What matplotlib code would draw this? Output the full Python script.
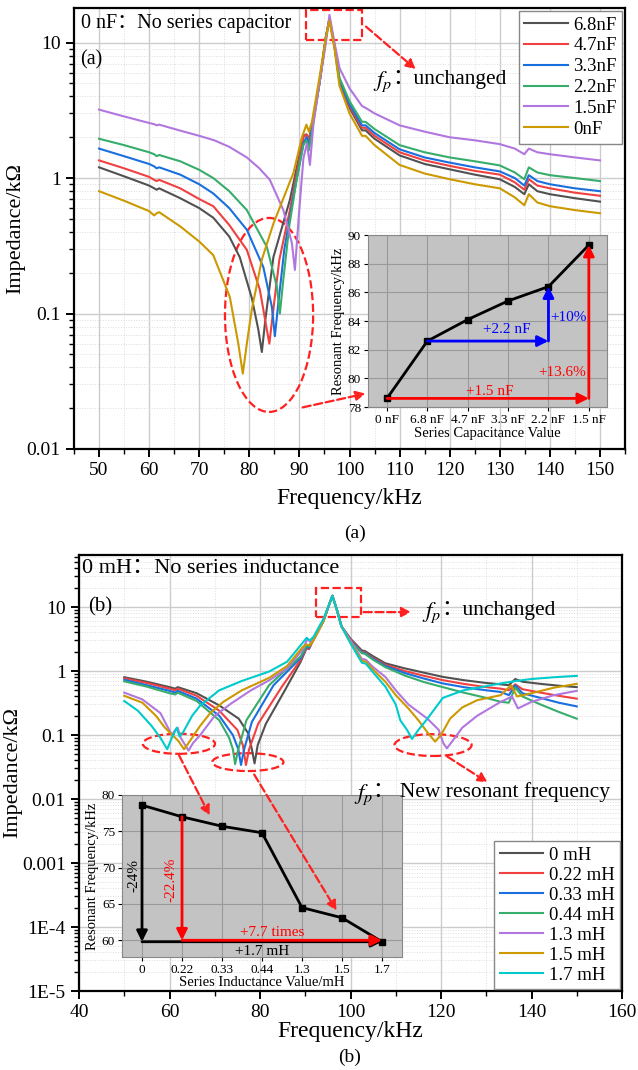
import numpy as np
import matplotlib
matplotlib.use("Agg")
import matplotlib.pyplot as plt
from matplotlib.patches import Ellipse, Rectangle
from matplotlib.text import Annotation
from matplotlib.ticker import LogLocator, NullFormatter, MultipleLocator

plt.rcParams['font.family'] = ['Liberation Serif', 'Noto Sans CJK SC']
plt.rcParams['mathtext.fontset'] = 'stix'

# Origin default palette
colors_a = ['#515151', '#F14040', '#1A6FDF', '#37AD6B', '#B177DE', '#CC9900']
colors_b = ['#515151', '#F14040', '#1A6FDF', '#37AD6B', '#B177DE', '#CC9900', '#00CBCC']

# ---------- (a) series capacitor ----------
labels_a = ['6.8nF', '4.7nF', '3.3nF', '2.2nF', '1.5nF', '0nF']
right_f_a = [98, 100, 102.5, 103.2, 105, 110, 115, 120, 125, 130, 133, 134.9, 135.8, 137.5, 140, 145, 150]

f_68 = [50, 55, 60, 61, 61.5, 62, 66.2, 70, 72.8, 76, 78.1, 80.5, 81.8, 82.5, 83.2, 84.8, 88.1, 90.8, 91.4, 91.9, 92.5, 94, 95.3, 96, 97]
z_68 = [1.2, 1.03, 0.88, 0.84, 0.82, 0.84, 0.71, 0.6, 0.51, 0.37, 0.26, 0.13, 0.076, 0.052, 0.09, 0.26, 0.69, 2.05, 2.1, 1.95, 2.4, 5, 11, 15, 9.5]
r_68 = [5.1, 3.3, 2.25, 2.25, 1.95, 1.47, 1.27, 1.16, 1.06, 0.98, 0.86, 0.76, 0.9, 0.8, 0.76, 0.71, 0.67]

f_47 = [50, 55, 60, 61, 61.5, 62, 66.2, 70, 72.8, 76, 79.5, 82.1, 83.5, 84.0, 84.7, 86, 88.1, 90.8, 91.4, 91.9, 92.5, 94, 95.3, 96, 97]
z_47 = [1.35, 1.18, 1.02, 0.97, 0.95, 0.97, 0.84, 0.7, 0.62, 0.45, 0.295, 0.15, 0.076, 0.06, 0.1, 0.25, 0.58, 2.0, 2.1, 1.9, 2.4, 5, 11, 15, 9.5]
r_47 = [5.2, 3.4, 2.35, 2.35, 2.05, 1.55, 1.35, 1.23, 1.13, 1.06, 0.93, 0.82, 0.98, 0.88, 0.84, 0.78, 0.74]

f_33 = [50, 55, 60, 61, 61.5, 62, 66.2, 70, 72.8, 76, 79.5, 82.8, 84.5, 85.1, 85.8, 87, 89, 90.8, 91.4, 91.9, 92.5, 94, 95.3, 96, 97]
z_33 = [1.65, 1.45, 1.27, 1.22, 1.18, 1.2, 1.06, 0.9, 0.77, 0.6, 0.415, 0.22, 0.112, 0.068, 0.12, 0.3, 0.8, 1.8, 2.0, 1.75, 2.3, 5, 11, 15, 9.5]
r_33 = [5.3, 3.5, 2.45, 2.45, 2.15, 1.63, 1.42, 1.3, 1.2, 1.12, 1.0, 0.88, 1.05, 0.95, 0.9, 0.84, 0.8]

f_22 = [50, 55, 60, 61, 61.5, 62, 66.2, 70, 72.8, 76, 79.5, 83.5, 85.5, 86.1, 86.8, 88, 89.5, 90.8, 91.4, 91.9, 92.5, 94, 95.3, 96, 97]
z_22 = [1.95, 1.75, 1.55, 1.5, 1.45, 1.48, 1.33, 1.15, 1.0, 0.8, 0.58, 0.31, 0.158, 0.1, 0.18, 0.45, 1.0, 1.75, 1.9, 1.6, 2.2, 5, 11, 15, 9.5]
r_22 = [5.5, 3.7, 2.6, 2.6, 2.3, 1.75, 1.55, 1.42, 1.33, 1.24, 1.1, 0.98, 1.2, 1.1, 1.05, 1.0, 0.95]

f_15 = [50, 55, 60, 61, 61.5, 62, 66, 70, 73, 76, 79.5, 82, 84.1, 86.8, 88.5, 89.1, 90.0, 90.8, 91.5, 92.1, 92.8, 94, 95.3, 96, 97]
z_15 = [3.2, 2.85, 2.55, 2.5, 2.45, 2.48, 2.25, 2.05, 1.9, 1.7, 1.42, 1.18, 0.97, 0.58, 0.33, 0.21, 0.6, 1.4, 1.8, 1.25, 2.5, 5, 10, 16, 10]
r_15 = [6.5, 4.6, 3.4, 3.3, 3.0, 2.45, 2.2, 2.0, 1.9, 1.78, 1.65, 1.5, 1.65, 1.55, 1.5, 1.42, 1.35]

f_0n = [50, 55, 60, 61, 61.5, 62, 66.2, 70, 72.8, 76.1, 77.8, 78.7, 79.5, 80.5, 82.5, 84.8, 88.8, 90.5, 91.4, 91.9, 92.5, 94, 95.3, 96, 97]
z_0n = [0.8, 0.68, 0.57, 0.53, 0.55, 0.56, 0.44, 0.34, 0.27, 0.133, 0.06, 0.036, 0.06, 0.107, 0.25, 0.46, 1.09, 2.0, 2.48, 2.2, 2.6, 5.5, 11, 14.5, 9]
r_0n = [4.8, 3.0, 2.05, 2.05, 1.75, 1.25, 1.08, 0.98, 0.9, 0.84, 0.72, 0.63, 0.76, 0.66, 0.62, 0.58, 0.55]

series_a = [(f_68, z_68, r_68), (f_47, z_47, r_47), (f_33, z_33, r_33),
            (f_22, z_22, r_22), (f_15, z_15, r_15), (f_0n, z_0n, r_0n)]

# inset (a)
cap_names = ['0 nF', '6.8 nF', '4.7 nF', '3.3 nF', '2.2 nF', '1.5 nF']
cap_fres = [78.6, 82.6, 84.1, 85.4, 86.4, 89.3]

# ---------- (b) series inductance ----------
labels_b = ['0 mH', '0.22 mH', '0.33 mH', '0.44 mH', '1.3 mH', '1.5 mH', '1.7 mH']
right_f_b = [97, 98, 100, 102.5, 103.2, 105, 107.7, 112, 116, 120.4, 125, 130, 133.2, 135, 136.4, 138, 142, 146, 150]

f_b0 = [50, 55, 60, 61.3, 61.8, 66, 71, 75.3, 77.4, 78.2, 78.8, 79.5, 81.3, 85.5, 89, 90.3, 90.8, 91.5, 94, 95.3, 96]
z_b0 = [0.8, 0.68, 0.56, 0.53, 0.56, 0.45, 0.29, 0.18, 0.106, 0.06, 0.036, 0.07, 0.15, 0.5, 1.4, 2.3, 2.2, 2.8, 6, 11, 15]
r_b0 = [9, 5, 3.2, 2.1, 2.05, 1.7, 1.32, 1.1, 0.95, 0.81, 0.72, 0.65, 0.62, 0.6, 0.75, 0.68, 0.63, 0.59, 0.56]

f_b22 = [50, 55, 60, 61.3, 61.8, 66, 71, 75, 76.2, 76.9, 77.6, 79.6, 84.7, 89, 90.3, 90.8, 91.5, 94, 95.3, 96]
z_b22 = [0.77, 0.65, 0.53, 0.5, 0.53, 0.41, 0.24, 0.12, 0.07, 0.034, 0.06, 0.15, 0.55, 1.5, 2.3, 2.2, 2.8, 6, 11, 15]
r_b22 = [9, 5, 3.1, 2.0, 1.95, 1.6, 1.25, 1.0, 0.85, 0.72, 0.63, 0.56, 0.53, 0.5, 0.62, 0.52, 0.46, 0.41, 0.37]

f_b33 = [50, 55, 60, 61.3, 61.8, 66, 71, 74, 75.2, 75.8, 76.5, 78.2, 83, 89, 90.3, 90.8, 91.5, 94, 95.3, 96]
z_b33 = [0.73, 0.6, 0.49, 0.46, 0.49, 0.37, 0.2, 0.1, 0.06, 0.034, 0.06, 0.16, 0.6, 1.6, 2.4, 2.3, 2.9, 6, 11, 15]
r_b33 = [9, 5, 3.0, 1.95, 1.9, 1.55, 1.2, 0.93, 0.77, 0.64, 0.56, 0.5, 0.47, 0.42, 0.6, 0.45, 0.38, 0.32, 0.28]

f_b44 = [50, 55, 60, 61.3, 61.8, 66, 71, 73.2, 74.0, 74.5, 75.2, 77, 82, 89, 90.3, 90.8, 91.5, 94, 95.3, 96]
z_b44 = [0.69, 0.57, 0.45, 0.43, 0.46, 0.34, 0.17, 0.09, 0.06, 0.035, 0.06, 0.17, 0.6, 1.7, 2.5, 2.4, 3.0, 6, 11, 15]
r_b44 = [9, 5, 2.9, 1.9, 1.85, 1.5, 1.15, 0.85, 0.68, 0.56, 0.46, 0.38, 0.33, 0.32, 0.55, 0.4, 0.3, 0.23, 0.18]

f_b13 = [50, 54, 58, 60.5, 61.3, 61.8, 62.5, 64.2, 65.2, 66.8, 70, 73.6, 78, 82.1, 86, 89.5, 90.5, 91.2, 92, 94, 95.3, 96]
z_b13 = [0.46, 0.36, 0.22, 0.1, 0.12, 0.13, 0.09, 0.057, 0.075, 0.1, 0.2, 0.31, 0.5, 0.72, 1.1, 2.2, 3.2, 2.8, 3.2, 6, 11, 15]
r_f_b13 = [97, 98, 100, 102.5, 103.4, 105, 107.7, 110, 112.8, 117, 119.5, 120.5, 121.3, 122.5, 124.7, 128, 133.2, 135.7, 137, 140, 145, 150]
r_b13 = [9, 5, 3, 1.55, 1.5, 1.15, 0.81, 0.5, 0.3, 0.18, 0.12, 0.075, 0.062, 0.08, 0.13, 0.2, 0.33, 0.4, 0.26, 0.33, 0.42, 0.49]

f_b15 = [50, 54, 57, 59, 61.3, 62, 63.2, 64.2, 66.8, 69, 71.9, 76, 82, 86, 89.5, 90.3, 91, 91.8, 94, 95.3, 96]
z_b15 = [0.41, 0.32, 0.2, 0.13, 0.09, 0.08, 0.06, 0.075, 0.14, 0.22, 0.33, 0.5, 0.78, 1.2, 2.4, 2.6, 2.5, 3.0, 6, 11, 15]
r_f_b15 = [97, 98, 100, 102.5, 103.4, 105, 107.7, 110, 112.8, 115, 117, 118.7, 120, 122, 124.7, 128, 133.2, 135.5, 136.8, 140, 145, 150]
r_b15 = [9, 5, 2.8, 1.45, 1.4, 1.05, 0.68, 0.42, 0.26, 0.17, 0.11, 0.079, 0.1, 0.18, 0.27, 0.35, 0.42, 0.6, 0.4, 0.45, 0.55, 0.63]

f_b17 = [50, 53, 56, 58, 59.5, 60.5, 61.6, 62.2, 63, 65, 66.8, 71, 76, 82, 86, 89.5, 90.3, 91, 91.8, 94, 95.3, 96]
z_b17 = [0.34, 0.24, 0.14, 0.09, 0.06, 0.09, 0.13, 0.095, 0.11, 0.2, 0.29, 0.5, 0.7, 0.98, 1.4, 2.8, 3.3, 3.0, 3.4, 6.5, 11, 15]
r_f_b17 = [97, 98, 100, 102.5, 103.4, 105, 107.7, 110, 111, 112.5, 113.6, 115, 117, 120.4, 125, 130, 133.2, 136.6, 140, 145, 150]
r_b17 = [9, 5, 2.7, 1.35, 1.3, 0.95, 0.57, 0.3, 0.17, 0.12, 0.087, 0.12, 0.18, 0.38, 0.5, 0.58, 0.64, 0.7, 0.75, 0.8, 0.84]

series_b = [(f_b0, z_b0, right_f_b, r_b0), (f_b22, z_b22, right_f_b, r_b22),
            (f_b33, z_b33, right_f_b, r_b33), (f_b44, z_b44, right_f_b, r_b44),
            (f_b13, z_b13, r_f_b13, r_b13), (f_b15, z_b15, r_f_b15, r_b15),
            (f_b17, z_b17, r_f_b17, r_b17)]

# inset (b)
ind_names = ['0', '0.22', '0.33', '0.44', '1.3', '1.5', '1.7']
ind_fres = [78.6, 77.0, 75.7, 74.8, 64.5, 63.1, 59.8]

W, H = 638, 1070
fig = plt.figure(figsize=(W / 100, H / 100), dpi=100)


def box(x0, y0, x1, y1):
    return [x0 / W, 1 - y1 / H, (x1 - x0) / W, (y1 - y0) / H]


def style_main(ax):
    for s in ax.spines.values():
        s.set_linewidth(1.6)
    ax.tick_params(which='major', direction='out', length=6, width=1.4, labelsize=14, top=False, right=False)
    ax.tick_params(which='minor', direction='out', length=3.5, width=1.0, top=False, right=False)
    ax.grid(True, which='major', color='#cccccc', lw=1.0)
    ax.grid(True, which='minor', color='#dddddd', lw=0.7, ls=':')
    ax.set_axisbelow(True)


def fp_label(ax, x, y, rest, size):
    # drawn at figure level so it sits above the insets
    t = fig.text(x, y, '$f_p$', transform=ax.transAxes, fontsize=size + 1, va='center', ha='left')
    fig.add_artist(Annotation('\uff1a' + rest, xy=(1, 0.62), xycoords=t, fontsize=size,
                              va='center', ha='left'))


def dashed_arrow(ax, start, end):
    fig.add_artist(Annotation('', xy=end, xytext=start, xycoords=ax.transAxes,
                              arrowprops=dict(arrowstyle='-|>', color=red, lw=1.6, ls='--',
                                              mutation_scale=14)))


red = '#ff2020'

# ================= panel (a) =================
ax1 = fig.add_axes(box(74, 8, 625, 449))
for (f, z, r), c, lab in zip(series_a, colors_a, labels_a):
    ax1.plot(list(f) + right_f_a, list(z) + r, color=c, lw=1.5, label=lab)
ax1.set_yscale('log')
ax1.set_xlim(45, 155)
ax1.set_ylim(0.01, 18)
ax1.set_xticks(range(50, 151, 10))
ax1.xaxis.set_minor_locator(MultipleLocator(5))
ax1.set_yticks([0.01, 0.1, 1, 10])
ax1.set_yticklabels(['0.01', '0.1', '1', '10'])
ax1.yaxis.set_minor_locator(LogLocator(base=10, subs=np.arange(2, 10)))
ax1.yaxis.set_minor_formatter(NullFormatter())
style_main(ax1)
ax1.set_xlabel('Frequency/kHz', fontsize=17, labelpad=6)
ax1.set_ylabel('Impedance/k\u03a9', fontsize=16, labelpad=1)

leg1 = ax1.legend(loc='upper right', fontsize=13.5, frameon=True, fancybox=False,
                  edgecolor='#888888', framealpha=1, handlelength=2.3, handletextpad=0.3,
                  borderaxespad=0.15, labelspacing=0.2, borderpad=0.3)
leg1.get_frame().set_linewidth(1.0)

ax1.text(0.012, 0.964, '0 nF\uff1aNo series capacitor', transform=ax1.transAxes,
         fontsize=14.5, va='center', ha='left')
ax1.text(0.012, 0.882, '(a)', transform=ax1.transAxes, fontsize=14.5, va='center', ha='left')
ax1.add_patch(Rectangle((0.421, 0.927), 0.102, 0.068, transform=ax1.transAxes, fill=False,
                        ec=red, ls='--', lw=1.6))
dashed_arrow(ax1, (0.526, 0.962), (0.624, 0.857))
fp_label(ax1, 0.543, 0.832, 'unchanged', 15.5)
ax1.add_patch(Ellipse((0.354, 0.304), 0.160, 0.44, transform=ax1.transAxes, fill=False,
                      ec=red, ls='--', lw=1.6))
dashed_arrow(ax1, (0.41, 0.093), (0.534, 0.127))

# inset (a)
ia = fig.add_axes(box(368, 235, 607, 407))
ia.set_facecolor('#c3c3c3')
xa = np.arange(len(cap_names))
ia.plot(xa, cap_fres, color='black', lw=2, marker='s', ms=5)
ia.set_xlim(-0.47, 5.45)
ia.set_ylim(78, 90)
ia.set_xticks(xa)
ia.set_xticklabels(cap_names)
ia.set_yticks(range(78, 91, 2))
ia.grid(True, color='#9a9a9a', lw=0.8)
ia.set_axisbelow(True)
ia.tick_params(labelsize=9.5, length=3, pad=2)
for s in ia.spines.values():
    s.set_color('#888888')
ia.set_xlabel('Series Capacitance Value', fontsize=10.5, labelpad=1)
ia.set_ylabel('Resonant Frequency/kHz', fontsize=10.5, labelpad=2)
ap = dict(arrowstyle='-|>', lw=2, mutation_scale=16, shrinkA=0, shrinkB=0)
ia.annotate('', xy=(xa[5], cap_fres[0]), xytext=(xa[0], cap_fres[0]), arrowprops=dict(ap, color='red'))
ia.annotate('', xy=(xa[5], cap_fres[5]), xytext=(xa[5], cap_fres[0]), arrowprops=dict(ap, color='red'))
ia.annotate('', xy=(xa[4], cap_fres[1]), xytext=(xa[1], cap_fres[1]), arrowprops=dict(ap, color='blue'))
ia.annotate('', xy=(xa[4], cap_fres[4]), xytext=(xa[4], cap_fres[1]), arrowprops=dict(ap, color='blue'))
ia.text(2.55, 79.1, '+1.5 nF', color='red', fontsize=11, ha='center', va='center')
ia.text(4.35, 80.4, '+13.6%', color='red', fontsize=11, ha='center', va='center')
ia.text(2.96, 83.4, '+2.2 nF', color='blue', fontsize=11, ha='center', va='center')
ia.text(4.5, 84.25, '+10%', color='blue', fontsize=11, ha='center', va='center')

fig.text(355 / W, 1 - 533 / H, '(a)', fontsize=14, ha='center', va='center')

# ================= panel (b) =================
ax2 = fig.add_axes(box(79, 555, 622, 991))
for (f, z, rf, r), c, lab in zip(series_b, colors_b, labels_b):
    ax2.plot(list(f) + rf, list(z) + r, color=c, lw=1.5, label=lab)
ax2.set_yscale('log')
ax2.set_xlim(40, 160)
ax2.set_ylim(1e-5, 65)
ax2.set_xticks(range(40, 161, 20))
ax2.xaxis.set_minor_locator(MultipleLocator(10))
ax2.set_yticks([1e-5, 1e-4, 1e-3, 1e-2, 0.1, 1, 10])
ax2.set_yticklabels(['1E-5', '1E-4', '0.001', '0.01', '0.1', '1', '10'])
ax2.yaxis.set_minor_locator(LogLocator(base=10, subs=np.arange(2, 10), numticks=20))
ax2.yaxis.set_minor_formatter(NullFormatter())
style_main(ax2)
ax2.set_xlabel('Frequency/kHz', fontsize=17, labelpad=0)
ax2.set_ylabel('Impedance/k\u03a9', fontsize=16, labelpad=0)

leg2 = ax2.legend(loc='lower right', fontsize=13.5, frameon=True, fancybox=False,
                  edgecolor='#888888', framealpha=1, handlelength=2.3, handletextpad=0.3,
                  borderaxespad=0.1, labelspacing=0.15, borderpad=0.3)
leg2.get_frame().set_linewidth(1.0)

ax2.text(0.006, 0.970, '0 mH\uff1aNo series inductance', transform=ax2.transAxes,
         fontsize=16, va='center', ha='left')
ax2.text(0.017, 0.881, '(b)', transform=ax2.transAxes, fontsize=15, va='center', ha='left')
ax2.add_patch(Rectangle((0.436, 0.858), 0.083, 0.066, transform=ax2.transAxes, fill=False,
                        ec=red, ls='--', lw=1.6))
dashed_arrow(ax2, (0.519, 0.869), (0.617, 0.869))
fp_label(ax2, 0.632, 0.867, 'unchanged', 15.5)
for cx, cy, w, h in [(0.184, 0.567, 0.133, 0.046), (0.311, 0.525, 0.131, 0.041),
                     (0.652, 0.564, 0.142, 0.050)]:
    ax2.add_patch(Ellipse((cx, cy), w, h, transform=ax2.transAxes, fill=False,
                          ec=red, ls='--', lw=1.6))

# inset (b)
ib = fig.add_axes(box(122, 795, 402, 957))
ib.set_facecolor('#c3c3c3')
xb = np.arange(len(ind_names))
ib.plot(xb, ind_fres, color='black', lw=2, marker='s', ms=5)
ib.set_xlim(-0.5, 6.5)
ib.set_ylim(57.7, 80)
ib.set_xticks(xb)
ib.set_xticklabels(ind_names)
ib.set_yticks([60, 65, 70, 75, 80])
ib.grid(True, color='#9a9a9a', lw=0.8)
ib.set_axisbelow(True)
ib.tick_params(labelsize=9.5, length=3, pad=2)
for s in ib.spines.values():
    s.set_color('#888888')
ib.set_xlabel('Series Inductance Value/mH', fontsize=10.5, labelpad=0)
ib.set_ylabel('Resonant Frequency/kHz', fontsize=10.5, labelpad=2)
ib.annotate('', xy=(xb[0], ind_fres[6]), xytext=(xb[0], ind_fres[0]), arrowprops=dict(ap, color='black'))
ib.annotate('', xy=(xb[6], ind_fres[6]), xytext=(xb[0], ind_fres[6]), arrowprops=dict(ap, color='black'))
ib.annotate('', xy=(xb[1], 60.0), xytext=(xb[1], ind_fres[1]), arrowprops=dict(ap, color='red'))
ib.annotate('', xy=(xb[6], 60.0), xytext=(xb[1], 60.0), arrowprops=dict(ap, color='red'))
ib.text(-0.2, 68.9, '-24%', color='black', fontsize=11, rotation=90, ha='center', va='center')
ib.text(0.72, 68.3, '-22.4%', color='red', fontsize=11, rotation=90, ha='center', va='center')
ib.text(3.25, 61.1, '+7.7 times', color='red', fontsize=11, ha='center', va='center')
ib.text(3.0, 58.4, '+1.7 mH', color='black', fontsize=11, ha='center', va='center')

# arrows from the ellipses run over the inset, so they are added at figure level
for start, end in [((0.182, 0.546), (0.243, 0.397)),
                   ((0.320, 0.502), (0.477, 0.179)),
                   ((0.674, 0.541), (0.757, 0.475))]:
    dashed_arrow(ax2, start, end)
fp_label(ax2, 0.506, 0.45, ' New resonant frequency', 15.5)

fig.text(350 / W, 1 - 1057 / H, '(b)', fontsize=14, ha='center', va='center')

fig.savefig('out.png', dpi=100)
